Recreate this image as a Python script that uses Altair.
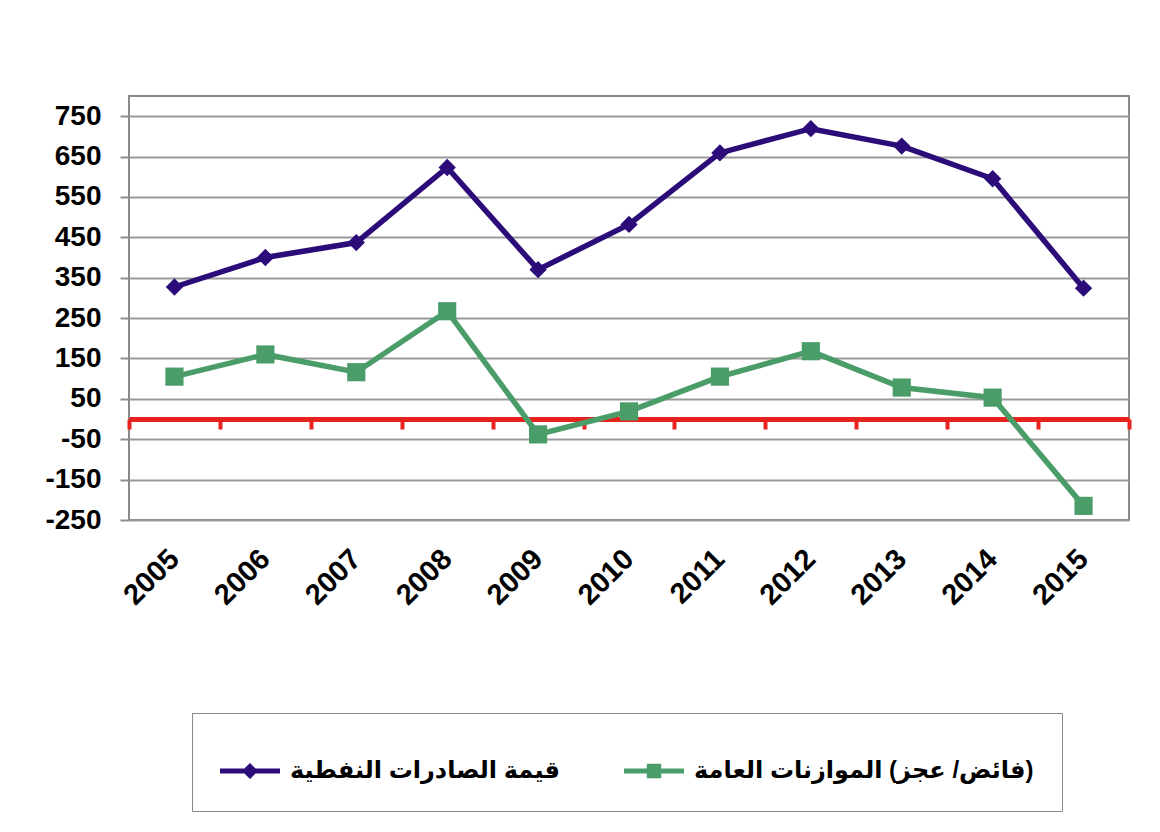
import altair as alt
import pandas as pd

years = ["2005", "2006", "2007", "2008", "2009", "2010", "2011", "2012", "2013", "2014", "2015"]
oil_exports = [327, 400, 437, 623, 370, 482, 659, 719, 676, 595, 324]
budget_balance = [105, 160, 116, 267, -38, 19, 105, 168, 78, 53, -215]
series_names = ["قيمة الصادرات النفطية", "(فائض/ عجز) الموازنات العامة"]
series_colors = ["#2c0c79", "#4a9d69"]
y_ticks = [-250, -150, -50, 50, 150, 250, 350, 450, 550, 650, 750]
y_domain = [-250, 800]

# Right-to-left embedding so the Arabic legend labels read in their natural order
series_labels = ["\u202B" + s + "\u202C" for s in series_names]

df = pd.DataFrame({
    "year": years * 2,
    "value": oil_exports + budget_balance,
    "series": [series_labels[0]] * len(years) + [series_labels[1]] * len(years),
})

FONT = "Liberation Sans, Arial, DejaVu Sans, sans-serif"
W, H = 1000, 424
zero_offset = -round(H * (0 - y_domain[0]) / (y_domain[1] - y_domain[0]))

x_scale = alt.Scale(type="band", paddingInner=0, paddingOuter=0)
y_enc = alt.Y("value:Q", scale=alt.Scale(domain=y_domain, nice=False, zero=False),
              axis=alt.Axis(values=y_ticks, title=None, labelFont=FONT, labelFontSize=28,
                            labelFontWeight="bold", labelColor="black", tickColor="#8c8c8c",
                            tickWidth=2, tickSize=9, gridColor="#9a9a9a", gridWidth=2,
                            domain=False, labelPadding=19,
                            labelExpr="'' + datum.value"))
x_plain = alt.X("year:N", scale=x_scale, sort=years, axis=None)

base = alt.Chart(df)

red_axis = alt.Axis(orient="bottom", offset=zero_offset, labels=False, title=None,
                    grid=False, domainColor="#e8231e", domainWidth=5,
                    tickColor="#e8231e", tickWidth=4, tickSize=10, tickBand="extent")
label_axis = alt.Axis(orient="bottom", title=None, ticks=False, domain=False,
                      grid=False, labelAngle=-45, labelFont=FONT, labelFontSize=29,
                      labelFontWeight="bold", labelColor="black", labelAlign="right",
                      labelBaseline="middle", labelPadding=34)

line_oil = base.mark_line(strokeWidth=5.5, color=series_colors[0]).encode(
    x=alt.X("year:N", scale=x_scale, sort=years, axis=red_axis),
    y=y_enc,
).transform_filter(alt.datum.series == series_labels[0])

line_budget = base.mark_line(strokeWidth=5.5, color=series_colors[1]).encode(
    x=alt.X("year:N", scale=x_scale, sort=years, axis=label_axis),
    y="value:Q",
).transform_filter(alt.datum.series == series_labels[1])

diamonds = base.mark_point(filled=True, shape="diamond", size=300, opacity=1,
                           color=series_colors[0]).encode(
    x=x_plain, y="value:Q",
).transform_filter(alt.datum.series == series_labels[0])

squares = base.mark_point(filled=True, shape="square", size=330, opacity=1,
                          color=series_colors[1]).encode(
    x=x_plain, y="value:Q",
).transform_filter(alt.datum.series == series_labels[1])

legend_paths = [
    "M-1,-0.085H1V0.085H-1Z M-0.27,0L0,-0.27L0.27,0L0,0.27Z",
    "M-1,-0.085H1V0.085H-1Z M-0.24,-0.24H0.24V0.24H-0.24Z",
]
leg = alt.Legend(orient="none", legendX=63, legendY=617, direction="horizontal", title=None)

legend_layer = base.mark_point(filled=True, opacity=1).encode(
    x=x_plain, y="value:Q",
    color=alt.Color("series:N", scale=alt.Scale(domain=series_labels, range=series_colors), legend=leg),
    shape=alt.Shape("series:N", scale=alt.Scale(domain=series_labels, range=legend_paths), legend=leg),
).transform_filter("false")

chart = alt.layer(line_oil, line_budget, diamonds, squares, legend_layer).resolve_axis(
    x="independent"
).properties(
    width=W, height=H,
    autosize=alt.AutoSizeParams(type="none"),
    padding={"left": 121, "top": 88, "right": 20, "bottom": 300},
    background="white",
).configure_view(
    stroke="#8a8a8a", strokeWidth=2
).configure_legend(
    labelFont=FONT, labelFontSize=24, labelFontWeight="bold", labelColor="black",
    symbolSize=3600, symbolStrokeWidth=0, symbolOpacity=1, padding=28,
    strokeColor="#8a8a8a", fillColor="white", columnPadding=64, labelOffset=10,
    labelLimit=600, cornerRadius=0,
)

chart.save("out.html", embed_options={"renderer": "svg", "actions": False})
